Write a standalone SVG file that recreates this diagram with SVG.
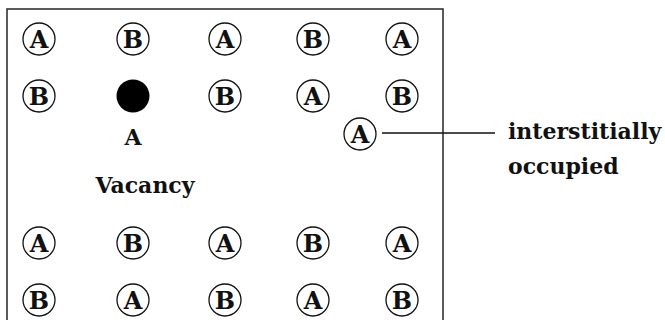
<svg xmlns="http://www.w3.org/2000/svg" width="665" height="320" viewBox="0 0 665 320">
<style>
.site{fill:#fff;stroke:#111;stroke-width:1.3}
.lt{font-family:"DejaVu Serif","Liberation Serif",serif;font-weight:bold;font-size:24px;fill:#111;text-anchor:middle}
.tx{font-family:"DejaVu Serif","Liberation Serif",serif;font-weight:bold;font-size:22px;fill:#111;text-anchor:middle}
.lbl{font-family:"DejaVu Serif","Liberation Serif",serif;font-weight:bold;font-size:22px;fill:#111}
.conn{stroke:#111;stroke-width:1.3;fill:none}
</style>
<rect x="7" y="9" width="436" height="330" fill="none" stroke="#333" stroke-width="1.6"/>
<g id="r1c1"><circle class="site" cx="39" cy="39" r="16"/><text class="lt" x="39" y="48">A</text></g>
<g id="r1c2"><circle class="site" cx="133" cy="39" r="16"/><text class="lt" x="133" y="48">B</text></g>
<g id="r1c3"><circle class="site" cx="225" cy="39" r="16"/><text class="lt" x="225" y="48">A</text></g>
<g id="r1c4"><circle class="site" cx="313" cy="39" r="16"/><text class="lt" x="313" y="48">B</text></g>
<g id="r1c5"><circle class="site" cx="402" cy="39" r="16"/><text class="lt" x="402" y="48">A</text></g>
<g id="r2c1"><circle class="site" cx="39" cy="96" r="16"/><text class="lt" x="39" y="105">B</text></g>
<g id="vacancy"><circle cx="133" cy="96" r="16.5" fill="#000"/><text class="tx" x="133" y="145">A</text><text class="tx" x="145" y="193">Vacancy</text></g>
<g id="r2c3"><circle class="site" cx="225" cy="96" r="16"/><text class="lt" x="225" y="105">B</text></g>
<g id="r2c4"><circle class="site" cx="313" cy="96" r="16"/><text class="lt" x="313" y="105">A</text></g>
<g id="r2c5"><circle class="site" cx="402" cy="96" r="16"/><text class="lt" x="402" y="105">B</text></g>
<g id="interstitial"><circle class="site" cx="360" cy="134" r="16"/><text class="lt" x="360" y="143">A</text></g>
<g id="r4c1"><circle class="site" cx="39" cy="243" r="16"/><text class="lt" x="39" y="252">A</text></g>
<g id="r4c2"><circle class="site" cx="133" cy="243" r="16"/><text class="lt" x="133" y="252">B</text></g>
<g id="r4c3"><circle class="site" cx="225" cy="243" r="16"/><text class="lt" x="225" y="252">A</text></g>
<g id="r4c4"><circle class="site" cx="313" cy="243" r="16"/><text class="lt" x="313" y="252">B</text></g>
<g id="r4c5"><circle class="site" cx="402" cy="243" r="16"/><text class="lt" x="402" y="252">A</text></g>
<g id="r5c1"><circle class="site" cx="39" cy="300" r="16"/><text class="lt" x="39" y="309">B</text></g>
<g id="r5c2"><circle class="site" cx="133" cy="300" r="16"/><text class="lt" x="133" y="309">A</text></g>
<g id="r5c3"><circle class="site" cx="225" cy="300" r="16"/><text class="lt" x="225" y="309">B</text></g>
<g id="r5c4"><circle class="site" cx="313" cy="300" r="16"/><text class="lt" x="313" y="309">A</text></g>
<g id="r5c5"><circle class="site" cx="402" cy="300" r="16"/><text class="lt" x="402" y="309">B</text></g>
<g id="connectors"><line class="conn" x1="382" y1="133" x2="495" y2="133"/></g>
<g id="label"><text class="lbl" x="508" y="139">interstitially</text><text class="lbl" x="508" y="174">occupied</text></g>
</svg>
